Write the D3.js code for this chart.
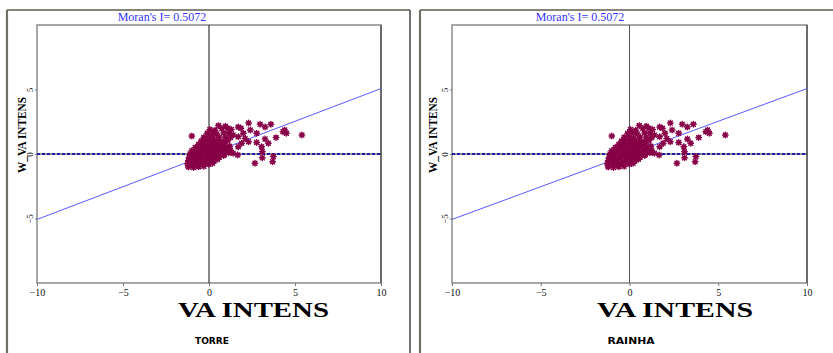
<!DOCTYPE html>
<html>
<head>
<meta charset="utf-8">
<script src="https://cdn.jsdelivr.net/npm/d3@7"></script>
<style>
  body { margin: 0; background: #fff; }
  svg { display: block; }
</style>
</head>
<body>
<svg id="chart" width="833" height="353"></svg>
<script>
// data (both maps show the same scatter)
const panelNames = ["TORRE", "RAINHA"];
const moranI = 0.5072;
const xTicks = [-10, -5, 0, 5, 10];
const yTicks = [-5, 0, 5];

const vaIntens = [
  -1.2, -0.9, -0.6, -0.3,
  -1.25, -1.0, -0.75, -0.5, -0.25, 0.0, 0.2,
  -1.2, -0.95, -0.7, -0.45, -0.2, 0.05, 0.3, 0.5,
  -1.15, -0.9, -0.65, -0.4, -0.15, 0.1, 0.35, 0.6, 0.85,
  -1.1, -0.85, -0.6, -0.35, -0.1, 0.15, 0.4, 0.65, 0.9, 1.15,
  -1.0, -0.75, -0.5, -0.25, 0.0, 0.25, 0.5, 0.75, 1.0, 1.25,
  -0.8, -0.55, -0.3, -0.05, 0.2, 0.45, 0.7, 0.95, 1.2,
  -0.6, -0.35, -0.1, 0.15, 0.4, 0.65, 0.9,
  -0.45, -0.2, 0.05, 0.3, 0.55, 0.8, 1.1,
  -0.3, 0.0, 0.25, 0.6, 0.95, 1.25,
  -0.1, 0.2, 0.45, 0.85, 1.15,
  0.05, 0.35, 0.75, 1.3,
  0.55, 0.95,
  -1.0, 1.1, 1.7, 2.3, 2.97, 3.26, 3.6, 1.86, 2.4, 2.77, 2.0, 1.7,
  4.4, 4.3, 4.5, 5.4, 3.9, 3.26, 2.3, 2.77, 3.06, 3.45, 1.9, 1.7,
  3.1, 1.67, 3.1, 3.74, 2.67, 3.7, 2.1, 1.4, 1.4
];
const wVaIntens = [
  -1.0, -1.05, -0.98, -0.95,
  -0.75, -0.8, -0.72, -0.78, -0.7, -0.8, -0.72,
  -0.5, -0.55, -0.48, -0.52, -0.5, -0.45, -0.55, -0.4,
  -0.25, -0.2, -0.28, -0.22, -0.25, -0.3, -0.2, -0.25, -0.12,
  0.0, 0.05, -0.02, 0.03, 0.0, -0.05, 0.02, 0.0, -0.02, 0.1,
  0.25, 0.3, 0.22, 0.28, 0.25, 0.2, 0.3, 0.25, 0.22, 0.3,
  0.5, 0.55, 0.48, 0.52, 0.5, 0.45, 0.55, 0.5, 0.6,
  0.75, 0.8, 0.72, 0.78, 0.75, 0.7, 0.8,
  1.0, 1.05, 0.98, 1.02, 1.0, 0.95, 1.05,
  1.3, 1.35, 1.25, 1.3, 1.32, 1.28,
  1.6, 1.65, 1.55, 1.62, 1.6,
  1.9, 1.85, 1.95, 1.9,
  2.2, 2.15,
  1.4, 2.0, 2.1, 2.4, 2.3, 2.1, 2.3, 2.0, 1.86, 1.6, 1.6, 1.34,
  1.86, 1.73, 1.6, 1.47, 1.27, 1.16, 0.95, 0.9, 0.57, 0.83, 0.83, 0.57,
  0.18, -0.08, -0.29, -0.2, -0.72, -0.6, 1.2, 1.47, 0.05
];

const points = vaIntens.map((x, i) => ({ x: x, y: wVaIntens[i] }));

const panels = [
  { frameL: 7, frameR: 410, left: 37, right: 381, titleX: 162, yLabX: 26, xLabX: 253.5, xLabW: 151, nameX: 212, nameW: 34 },
  { frameL: 420, frameR: 900, left: 452, right: 807, titleX: 580, yLabX: 437, xLabX: 675, xLabW: 156, nameX: 631, nameW: 47 }
];
const plotTop = 25, plotBottom = 283;

// asterisk marker like the GeoDa one
const star = {
  draw(ctx, size) {
    const r = Math.sqrt(size) / 2, d = r * 0.72;
    ctx.moveTo(-r, 0); ctx.lineTo(r, 0);
    ctx.moveTo(0, -r); ctx.lineTo(0, r);
    ctx.moveTo(-d, -d); ctx.lineTo(d, d);
    ctx.moveTo(-d, d); ctx.lineTo(d, -d);
  }
};

const svg = d3.select("#chart");

panels.forEach((p, k) => {
  const g = svg.append("g");

  // outer frame
  g.append("line").attr("x1", p.frameL).attr("x2", p.frameR).attr("y1", 10).attr("y2", 10)
    .attr("stroke", "#85857c").attr("stroke-width", 2);
  g.append("line").attr("x1", p.frameL).attr("x2", p.frameL).attr("y1", 10).attr("y2", 360)
    .attr("stroke", "#6f6f68").attr("stroke-width", 2.2);
  if (k == 0) {
    g.append("line").attr("x1", p.frameR).attr("x2", p.frameR).attr("y1", 10).attr("y2", 360)
      .attr("stroke", "#2a2a2a").attr("stroke-width", 1.3);
  }

  const x = d3.scaleLinear().domain([-10, 10]).range([p.left, p.right]);
  const y = d3.scaleLinear().domain([-10, 10]).range([plotBottom, plotTop]);

  // plot box
  g.append("rect")
    .attr("x", p.left).attr("y", plotTop)
    .attr("width", p.right - p.left).attr("height", plotBottom - plotTop)
    .attr("fill", "none").attr("stroke", "#8a8a8a").attr("stroke-width", 1.5);
  g.append("line").attr("x1", p.right).attr("x2", p.right).attr("y1", plotTop).attr("y2", plotBottom)
    .attr("stroke", "#444").attr("stroke-width", 1.2);

  // axes
  const xa = g.append("g")
    .attr("transform", "translate(0," + plotBottom + ")")
    .call(d3.axisBottom(x).tickValues(xTicks).tickSize(3).tickPadding(3).tickFormat(d3.format("d")));
  xa.select(".domain").remove();
  xa.selectAll("line").attr("stroke", "#777");
  xa.selectAll("text").attr("font-family", "Liberation Serif, serif").attr("font-size", 10).attr("fill", "#111");

  const ya = g.append("g")
    .attr("transform", "translate(" + p.left + ",0)")
    .call(d3.axisLeft(y).tickValues(yTicks).tickSize(2).tickFormat(d3.format("d")));
  ya.select(".domain").remove();
  ya.selectAll("line").attr("stroke", "#777");
  ya.selectAll("text")
    .attr("font-family", "Liberation Serif, serif").attr("font-size", 9).attr("fill", "#111")
    .attr("transform", "rotate(-90)")
    .attr("x", 0).attr("y", -4).attr("dy", null)
    .attr("text-anchor", "middle");

  // zero lines
  g.append("line").attr("x1", x(0)).attr("x2", x(0)).attr("y1", plotTop).attr("y2", plotBottom)
    .attr("stroke", k == 0 ? "#111" : "#555").attr("stroke-width", 1);
  g.append("line").attr("x1", p.left).attr("x2", p.right).attr("y1", y(0)).attr("y2", y(0))
    .attr("stroke", "#000").attr("stroke-width", 0.8);
  g.append("line").attr("x1", p.left).attr("x2", p.right).attr("y1", y(0)).attr("y2", y(0))
    .attr("stroke", "#1c1ca8").attr("stroke-width", 2).attr("stroke-dasharray", "3,2");

  // regression line, slope = Moran's I
  g.append("line")
    .attr("x1", x(-10)).attr("y1", y(-10 * moranI))
    .attr("x2", x(10)).attr("y2", y(10 * moranI))
    .attr("stroke", "#5a5aff").attr("stroke-width", 1);

  // points
  g.append("g").selectAll("path")
    .data(points)
    .enter()
    .append("path")
    .attr("transform", d => "translate(" + x(d.x) + "," + y(d.y) + ")")
    .attr("d", d3.symbol(star, 30))
    .attr("fill", "none")
    .attr("stroke", "#880048")
    .attr("stroke-width", 1.5)
    .attr("stroke-linecap", "round");

  // texts
  g.append("text")
    .attr("x", p.titleX).attr("y", 21)
    .attr("text-anchor", "middle")
    .attr("font-family", "Liberation Serif, serif").attr("font-size", 12)
    .attr("fill", "#3535ff")
    .text("Moran's I= " + moranI.toFixed(4));

  g.append("text")
    .attr("transform", "translate(" + p.yLabX + ",135) rotate(-90)")
    .attr("text-anchor", "middle")
    .attr("font-family", "Liberation Serif, serif").attr("font-size", 13).attr("font-weight", "bold")
    .attr("textLength", 76).attr("lengthAdjust", "spacingAndGlyphs")
    .text("W_VA INTENS");

  g.append("text")
    .attr("x", p.xLabX).attr("y", 317)
    .attr("text-anchor", "middle")
    .attr("font-family", "Liberation Serif, serif").attr("font-size", 22).attr("font-weight", "bold")
    .attr("textLength", p.xLabW).attr("lengthAdjust", "spacingAndGlyphs")
    .text("VA INTENS");

  g.append("text")
    .attr("x", p.nameX).attr("y", 344)
    .attr("text-anchor", "middle")
    .attr("font-family", "DejaVu Sans, sans-serif").attr("font-size", 8).attr("font-weight", "bold")
    .attr("textLength", p.nameW).attr("lengthAdjust", "spacingAndGlyphs")
    .text(panelNames[k]);
});
</script>
</body>
</html>
